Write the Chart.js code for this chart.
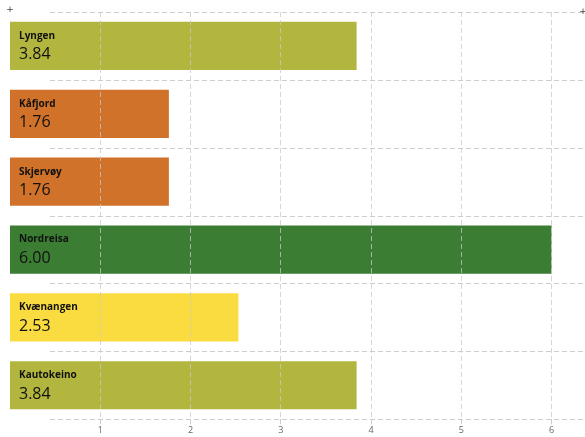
<!DOCTYPE html>
<html>
<head>
<meta charset="utf-8">
<script src="https://cdn.jsdelivr.net/npm/chart.js@4/dist/chart.umd.min.js"></script>
<style>
  html, body { margin: 0; padding: 0; background: #fff; }
  #wrap { width: 585px; height: 437px; }
</style>
</head>
<body>
<div id="wrap"><canvas id="chart"></canvas></div>
<script>
// data
const kommuner = ['Lyngen', 'Kåfjord', 'Skjervøy', 'Nordreisa', 'Kvænangen', 'Kautokeino'];
const verdier = [3.84, 1.76, 1.76, 6.00, 2.53, 3.84];
const farger = ['#b2b63e', '#d07229', '#d07229', '#3a7d33', '#fbdc40', '#b2b63e'];
const xTicks = [1, 2, 3, 4, 5, 6];

// navn + verdi inne i stolpene, og stiplede horisontale linjer fra x=50
const barLabels = {
    id: 'barLabels',
    beforeDatasetsDraw(chart) {
        const ctx = chart.ctx;
        const y = chart.scales.y;
        const area = chart.chartArea;
        const half = (y.getPixelForValue(1) - y.getPixelForValue(0)) / 2;
        ctx.save();
        ctx.strokeStyle = '#cdcdcd';
        ctx.lineWidth = 1;
        ctx.setLineDash([5, 3]);
        for (let i = 0; i <= kommuner.length; i++) {
            const py = Math.round(y.getPixelForValue(i) - half) + 0.5;
            ctx.beginPath();
            ctx.moveTo(50, py);
            ctx.lineTo(585, py);
            ctx.stroke();
        }
        ctx.restore();
        // små pluss i hjørnene oppe
        ctx.save();
        ctx.fillStyle = '#444';
        ctx.font = '9px "DejaVu Sans"';
        ctx.textAlign = 'center';
        ctx.textBaseline = 'middle';
        ctx.fillText('+', area.left, area.top - 2);
        ctx.fillText('+', 583, area.top);
        ctx.restore();
    },
    afterDatasetsDraw(chart) {
        const ctx = chart.ctx;
        const meta = chart.getDatasetMeta(0);
        ctx.save();
        ctx.fillStyle = '#111';
        ctx.textAlign = 'left';
        ctx.textBaseline = 'middle';
        meta.data.forEach((bar, i) => {
            const x = bar.base + 9;
            ctx.font = 'bold 10px "Open Sans"';
            ctx.fillText(kommuner[i], x, bar.y - 10);
            ctx.font = '16px "Open Sans"';
            ctx.fillText(verdier[i].toFixed(2), x, bar.y + 9);
        });
        ctx.restore();
    }
};

new Chart(document.getElementById('chart'), {
    type: 'bar',
    data: {
        labels: kommuner,
        datasets: [{
            data: verdier,
            backgroundColor: farger,
            borderWidth: 0,
            categoryPercentage: 1,
            barPercentage: 0.71
        }]
    },
    options: {
        indexAxis: 'y',
        responsive: true,
        maintainAspectRatio: false,
        animation: false,
        layout: { padding: { top: 12, left: 10, right: 0, bottom: 0 } },
        plugins: {
            legend: { display: false },
            tooltip: { enabled: false }
        },
        scales: {
            x: {
                min: 0,
                max: 6.37,
                afterBuildTicks(scale) {
                    scale.ticks = xTicks.map(v => ({ value: v }));
                },
                grid: {
                    color: 'rgba(200,200,200,0.75)',
                    tickColor: 'rgba(200,200,200,0.9)',
                    tickLength: 5,
                    z: 1
                },
                border: { display: false, dash: [5, 3] },
                ticks: {
                    color: '#666',
                    font: { family: 'Open Sans', size: 9 },
                    padding: 1,
                    maxRotation: 0
                }
            },
            y: {
                display: false,
                grid: { display: false }
            }
        }
    },
    plugins: [barLabels]
});
</script>
</body>
</html>
